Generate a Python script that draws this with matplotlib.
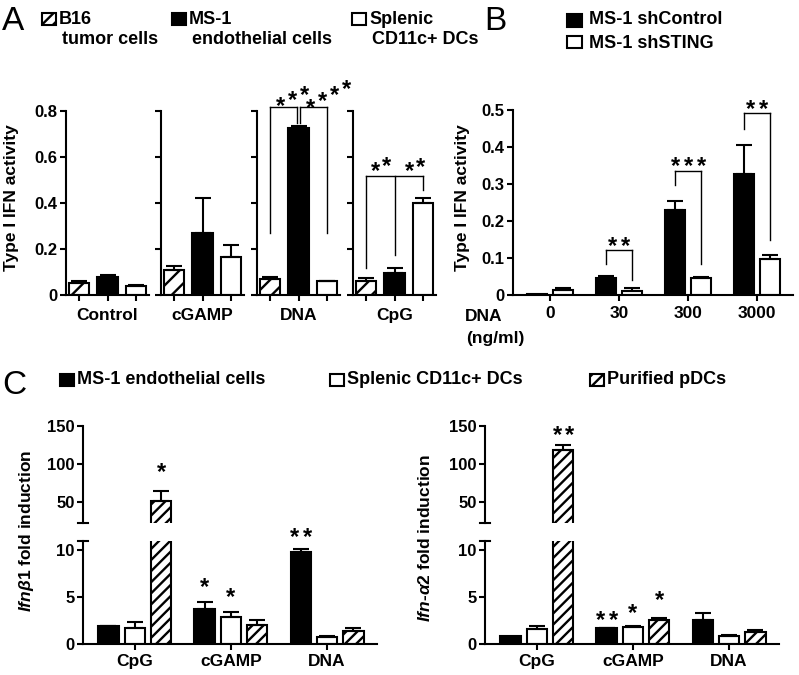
import matplotlib
matplotlib.use('Agg')
import matplotlib.pyplot as plt
from matplotlib.patches import Rectangle
import numpy as np

plt.rcParams['font.family'] = ['Liberation Sans', 'DejaVu Sans']
plt.rcParams['font.weight'] = 'bold'
plt.rcParams['axes.labelweight'] = 'bold'
plt.rcParams['hatch.linewidth'] = 1.7
plt.rcParams['mathtext.fontset'] = 'custom'
plt.rcParams['mathtext.it'] = 'Liberation Sans:italic:bold'
plt.rcParams['mathtext.rm'] = 'Liberation Sans:bold'
plt.rcParams['mathtext.bf'] = 'Liberation Sans:bold'

# ---------------- Panel A data ----------------
a_categories = ['Control', 'cGAMP', 'DNA', 'CpG']
a_series = ['B16\ntumor cells', 'MS-1\nendothelial cells', 'Splenic\nCD11c+ DCs']
a_b16 = [0.054, 0.109, 0.070, 0.062]
a_b16_err = [0.008, 0.018, 0.009, 0.010]
a_ms1 = [0.080, 0.268, 0.727, 0.097]
a_ms1_err = [0.007, 0.155, 0.007, 0.021]
a_dc = [0.039, 0.164, 0.060, 0.401]
a_dc_err = [0.003, 0.053, 0.003, 0.019]
a_yticks = [0, 0.2, 0.4, 0.6, 0.8]
a_yticklabels = ['0', '0.2', '0.4', '0.6', '0.8']

# ---------------- Panel B data ----------------
b_series = ['MS-1 shControl', 'MS-1 shSTING']
b_doses = ['0', '30', '300', '3000']
b_shctrl = [0.002, 0.045, 0.231, 0.328]
b_shctrl_err = [0.0, 0.006, 0.023, 0.077]
b_shsting = [0.014, 0.012, 0.047, 0.096]
b_shsting_err = [0.005, 0.006, 0.001, 0.012]
b_yticks = [0, 0.1, 0.2, 0.3, 0.4, 0.5]
b_yticklabels = ['0', '0.1', '0.2', '0.3', '0.4', '0.5']
b_sig_group = [1, 2, 3]
b_sig_top = [0.122, 0.335, 0.491]
b_sig_left = [0.084, 0.297, 0.450]
b_sig_right = [0.040, 0.084, 0.149]
b_sig_text_y = [0.149, 0.365, 0.520]
b_sig_stars = [2, 3, 2]

# ---------------- Panel C data ----------------
c_groups = ['CpG', 'cGAMP', 'DNA']
c_series = ['MS-1 endothelial cells', 'Splenic CD11c+ DCs', 'Purified pDCs']
c1_ms1 = [1.9, 3.75, 9.7]
c1_ms1_err = [0.05, 0.7, 0.4]
c1_dc = [1.7, 2.9, 0.77]
c1_dc_err = [0.6, 0.5, 0.03]
c1_pdc = [51.3, 2.0, 1.37]
c1_pdc_err = [13.2, 0.5, 0.28]
c2_ms1 = [0.9, 1.65, 2.5]
c2_ms1_err = [0.0, 0.03, 0.8]
c2_dc = [1.55, 1.8, 0.9]
c2_dc_err = [0.35, 0.1, 0.05]
c2_pdc = [118, 2.5, 1.3]
c2_pdc_err = [7, 0.3, 0.15]
c_low_yticks = [0, 5, 10]
c_high_yticks = [50, 100, 150]

W, H = 799, 675
fig = plt.figure(figsize=(W / 100, H / 100), dpi=100)
LW = 1.5


def add_ax(x0, y0, x1, y1):
    return fig.add_axes([x0 / W, 1 - y1 / H, (x1 - x0) / W, (y1 - y0) / H])


def style(ax, bottom=True):
    ax.spines['top'].set_visible(False)
    ax.spines['right'].set_visible(False)
    ax.spines['left'].set_linewidth(LW)
    ax.spines['bottom'].set_linewidth(LW)
    if not bottom:
        ax.spines['bottom'].set_visible(False)
    ax.tick_params(direction='out', length=4, width=LW, labelsize=12, pad=2)
    ax.patch.set_alpha(0)


def bar(ax, x, val, err, width, face, hatch=None):
    ax.bar([x], [val], width, color=face, edgecolor='black', linewidth=LW,
           hatch=hatch, zorder=2)
    if err > 0:
        ax.errorbar([x], [val], yerr=[[0], [err]], fmt='none', ecolor='black',
                    elinewidth=LW, capsize=6, capthick=LW, zorder=3)


def stars(ax, x, y, n, dx=12, dy=0, fs=17):
    for i in range(n):
        k = i - (n - 1) / 2
        ax.annotate('*', (x, y), xytext=(k * dx * 0.72, k * dy * 0.72 - 0.57 * fs),
                    textcoords='offset points', ha='center', va='baseline',
                    fontsize=fs, annotation_clip=False)


def bracket(ax, xs, bottoms, top, lw=1.0):
    ax.plot([xs[0], xs[-1]], [top, top], color='black', lw=lw, clip_on=False)
    for x, b in zip(xs, bottoms):
        ax.plot([x, x], [b, top], color='black', lw=lw, clip_on=False)


def ftext(x, y, s, **kw):
    fig.text(x / W, 1 - y / H, s, **kw)


def legend_box(x0, y0, x1, y1, face, hatch=None):
    fig.add_artist(Rectangle((x0 / W, 1 - y1 / H), (x1 - x0) / W, (y1 - y0) / H,
                             transform=fig.transFigure, facecolor=face,
                             edgecolor='black', linewidth=1.5, hatch=hatch))


# ================= Panel A =================
a_lefts = [66, 161, 257, 353]
a_w = 83
pos3 = np.arange(3)
a_faces = ['white', 'black', 'white']
a_hatches = ['//', None, None]
for i, cat in enumerate(a_categories):
    ax = add_ax(a_lefts[i], 111, a_lefts[i] + a_w, 295)
    style(ax)
    vals = [a_b16[i], a_ms1[i], a_dc[i]]
    errs = [a_b16_err[i], a_ms1_err[i], a_dc_err[i]]
    for j in range(3):
        bar(ax, pos3[j], vals[j], errs[j], 0.72, a_faces[j], a_hatches[j])
    ax.set_xlim(-0.45, 2.45)
    ax.set_ylim(0, 0.8)
    ax.set_yticks(a_yticks)
    if i == 0:
        ax.set_yticklabels(a_yticklabels)
    else:
        ax.set_yticklabels([])
    ax.set_xticks(pos3)
    ax.set_xticklabels([])
    ax.set_xlabel(cat, fontsize=12.5, labelpad=3)
    if cat == 'DNA':
        bracket(ax, [0, 0.95], [0.27, 0.75], 0.817)
        bracket(ax, [1.05, 2], [0.75, 0.27], 0.817)
        stars(ax, 0.80, 0.874, 3, dx=12, dy=5.5)
        stars(ax, 2.05, 0.884, 4, dx=12, dy=6.3)
    if cat == 'CpG':
        bracket(ax, [0, 1, 2], [0.117, 0.174, 0.457], 0.517)
        stars(ax, 0.54, 0.576, 2, dx=11, dy=5)
        stars(ax, 1.70, 0.578, 2, dx=11, dy=4)

ftext(12, 198, 'Type I IFN activity', rotation=90, ha='center', va='center', fontsize=12.5)

# legend A
ftext(2, 22, 'A', fontsize=24, fontweight='normal', ha='left', va='center')
a_leg_x = [42, 172, 352]
a_leg_faces = ['white', 'black', 'white']
a_leg_hatch = ['///', None, None]
for k, lab in enumerate(a_series):
    l1, l2 = lab.split('\n')
    legend_box(a_leg_x[k], 13, a_leg_x[k] + 14, 25, a_leg_faces[k], a_leg_hatch[k])
    ftext(a_leg_x[k] + 17, 19, l1, fontsize=13, ha='left', va='center')
    ftext(a_leg_x[k] + 20, 39, l2, fontsize=13, ha='left', va='center')

# ================= Panel B =================
axb = add_ax(513, 110, 793, 295)
style(axb)
pos4 = np.arange(4)
for g in range(4):
    bar(axb, pos4[g] - 0.19, b_shctrl[g], b_shctrl_err[g], 0.29, 'black')
    bar(axb, pos4[g] + 0.19, b_shsting[g], b_shsting_err[g], 0.29, 'white')
axb.set_xlim(-0.536, 3.52)
axb.set_ylim(0, 0.5)
axb.set_yticks(b_yticks)
axb.set_yticklabels(b_yticklabels)
axb.set_xticks(pos4)
axb.set_xticklabels(b_doses, fontsize=12.5)
axb.tick_params(axis='x', pad=4)
for g, t, l, r, ty, n in zip(b_sig_group, b_sig_top, b_sig_left, b_sig_right,
                             b_sig_text_y, b_sig_stars):
    bracket(axb, [g - 0.19, g + 0.19], [l, r], t)
    stars(axb, g, ty, n, dx=13)
ftext(462, 198, 'Type I IFN activity', rotation=90, ha='center', va='center', fontsize=12.5)
ftext(484, 316, 'DNA', fontsize=12.5, ha='center', va='center')
ftext(495, 338, '(ng/ml)', fontsize=12.5, ha='center', va='center')

ftext(484, 22, 'B', fontsize=24, fontweight='normal', ha='left', va='center')
legend_box(567, 14, 582, 27, 'black')
ftext(589, 20, b_series[0], fontsize=13, ha='left', va='center')
legend_box(567, 36, 582, 48, 'white')
ftext(589, 44, b_series[1], fontsize=13, ha='left', va='center')

# ================= Panel C =================
c_faces = ['black', 'white', 'white']
c_hatch = [None, None, '///']
offs = [-0.275, 0.0, 0.275]
c_data = [
    ([c1_ms1, c1_dc, c1_pdc], [c1_ms1_err, c1_dc_err, c1_pdc_err]),
    ([c2_ms1, c2_dc, c2_pdc], [c2_ms1_err, c2_dc_err, c2_pdc_err]),
]
c_x0 = [83, 485]
c_w = 294
cap = 5.0
for side in range(2):
    x0 = c_x0[side]
    lo = add_ax(x0, 540.7, x0 + c_w, 644)
    hi = add_ax(x0, 426, x0 + c_w, 523)
    style(lo)
    style(hi, bottom=False)
    series, errs = c_data[side]
    for ax in (lo, hi):
        for j in range(3):
            for g in range(3):
                bar(ax, g + offs[j], series[j][g], errs[j][g], 0.21, c_faces[j], c_hatch[j])
        ax.set_xlim(-0.54, 2.52)
    lo.set_ylim(0, 10.95)
    hi.set_ylim(22.4, 150)
    lo.set_yticks(c_low_yticks)
    hi.set_yticks(c_high_yticks)
    lo.set_xticks(np.arange(3))
    lo.set_xticklabels(c_groups, fontsize=12.5)
    lo.tick_params(axis='x', pad=3)
    hi.set_xticks([])
    # axis-break caps
    d = cap / c_w
    hi.plot([-d, d], [0, 0], transform=hi.transAxes, color='black', lw=LW, clip_on=False)
    lo.plot([-d, d], [1, 1], transform=lo.transAxes, color='black', lw=LW, clip_on=False)
    if side == 0:
        stars(hi, 0 + offs[2], 98, 1)
        stars(lo, 1 + offs[0], 6.7, 1)
        stars(lo, 1 + offs[1], 5.7, 1)
        stars(lo, 2 + offs[0], 12.0, 2, dx=13)
    else:
        stars(hi, 0 + offs[2], 147, 2, dx=12)
        stars(lo, 1 + offs[0], 3.2, 2, dx=13)
        stars(lo, 1 + offs[1], 4.0, 1)
        stars(lo, 1 + offs[2], 5.4, 1)

ftext(27, 531, r'$\mathit{Ifnβ1}$ fold induction', rotation=90, ha='center', va='center', fontsize=12.5)
ftext(425, 538, r'$\mathit{Ifn}$-$\mathit{α2}$ fold induction', rotation=90, ha='center', va='center', fontsize=12.5)

ftext(2, 385, 'C', fontsize=24, fontweight='normal', ha='left', va='center')
c_leg_x = [60, 330, 590]
c_leg_faces = ['black', 'white', 'white']
c_leg_hatch = [None, None, '///']
for k, lab in enumerate(c_series):
    legend_box(c_leg_x[k], 374, c_leg_x[k] + 14, 386, c_leg_faces[k], c_leg_hatch[k])
    ftext(c_leg_x[k] + 17, 380, lab, fontsize=13, ha='left', va='center')

fig.savefig('out.png', dpi=100)
